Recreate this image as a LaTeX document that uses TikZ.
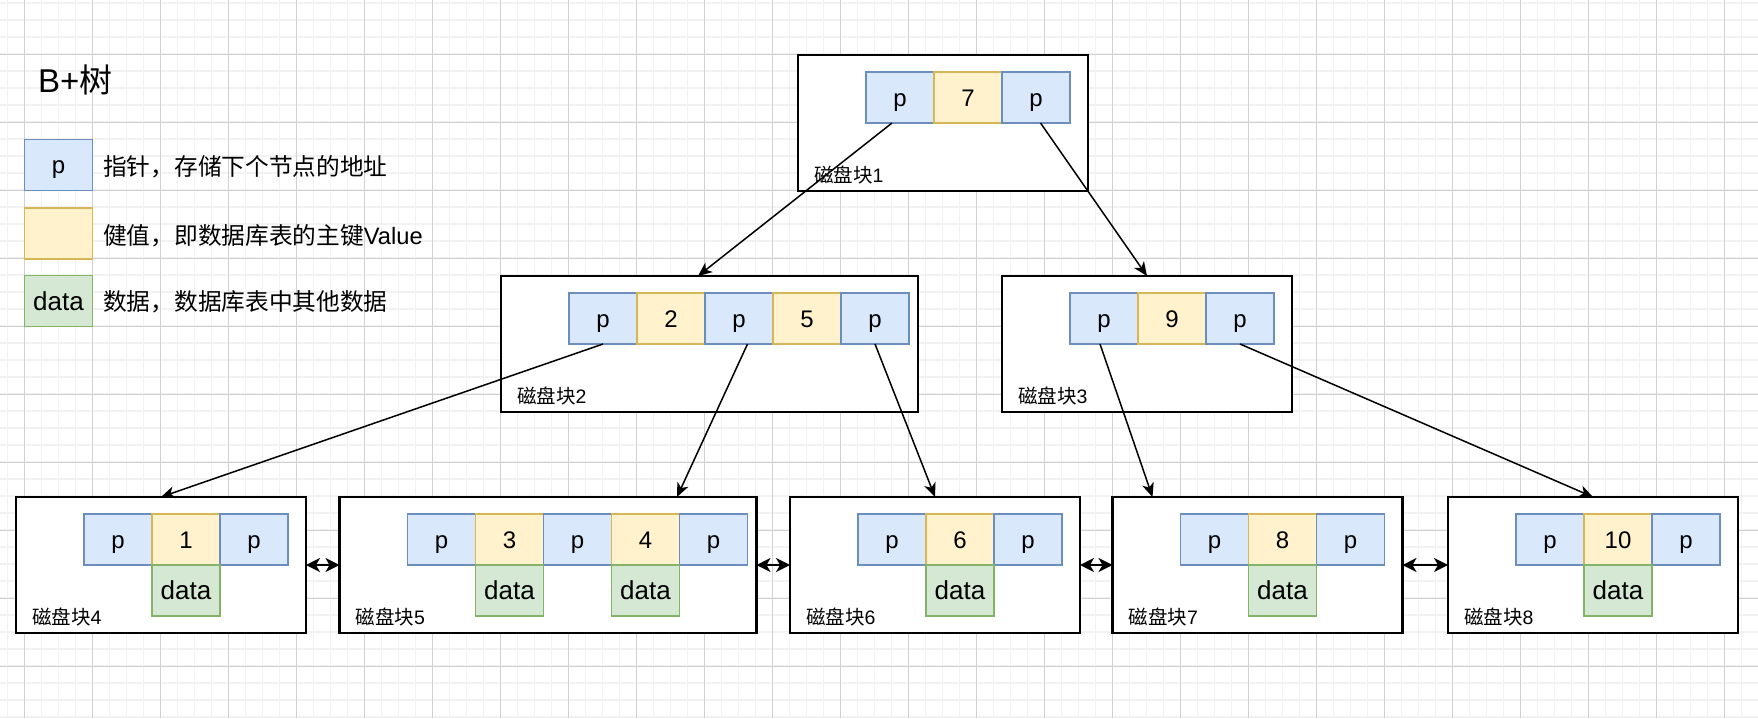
\documentclass[tikz,border=0pt]{standalone}
\usepackage{fontspec}
\setmainfont{Liberation Sans}
\newfontfamily\cjk{Noto Sans CJK SC}
\usetikzlibrary{arrows.meta,calc}
\definecolor{pfill}{HTML}{DAE8FC}
\definecolor{pline}{HTML}{6C8EBF}
\definecolor{kfill}{HTML}{FFF2CC}
\definecolor{kline}{HTML}{D6B656}
\definecolor{dfill}{HTML}{D5E8D4}
\definecolor{dline}{HTML}{82B366}
\definecolor{gminor}{HTML}{F2F2F2}
\definecolor{gmajor}{HTML}{D0D0D0}
\tikzset{
  disk/.style={draw=black, line width=2.2pt, fill=white, minimum width=290pt, minimum height=136pt, inner sep=0pt, outer sep=0pt},
  wdisk/.style={disk, minimum width=417pt},
  cell/.style={line width=1.3pt, minimum width=68pt, minimum height=51pt, inner sep=0pt, outer sep=0pt, font=\fontsize{24}{24}\selectfont, text height=17.2pt, text depth=0pt},
  pc/.style={cell, draw=pline, fill=pfill},
  kc/.style={cell, draw=kline, fill=kfill},
  dc/.style={cell, draw=dline, fill=dfill, font=\fontsize{26}{26}\selectfont, text height=18.7pt},
  lbl/.style={anchor=west, inner sep=0pt, font=\fontsize{19.5}{19.5}\selectfont, text height=17.2pt, text depth=2.3pt},
  legend/.style={anchor=west, inner sep=0pt, font=\fontsize{23.7}{24}\selectfont, text height=20.9pt, text depth=2.8pt},
  tree/.style={line width=1.5pt, -{Stealth[length=14pt,width=12pt,inset=4pt]}},
  link/.style={line width=1.6pt, {Stealth[length=14pt,width=14pt,inset=4pt]}-{Stealth[length=14pt,width=14pt,inset=4pt]}},
  minorgrid/.style={gminor, line width=1.5pt},
  majorgrid/.style={gmajor, line width=1pt}
}
\begin{document}
\begin{tikzpicture}[x=1pt,y=-1pt]
\useasboundingbox (0,0) rectangle (1758,718);
\fill[white] (0,0) rectangle (1758,718);
% grid
\foreach \i in {0,...,103} {\draw[minorgrid] ({7.3+17*\i},0) -- ({7.3+17*\i},718);}
\foreach \j in {0,...,42} {\draw[minorgrid] (0,{3+17*\j}) -- (1758,{3+17*\j});}
\foreach \i in {0,...,25} {\draw[majorgrid] ({24.3+68*\i},0) -- ({24.3+68*\i},718);}
\foreach \j in {0,...,10} {\draw[majorgrid] (0,{54+68*\j}) -- (1758,{54+68*\j});}

% title and legend
\node[anchor=west, inner sep=0pt, font=\fontsize{33}{33}\selectfont, text height=29pt, text depth=4pt] (title) at (38,80) {B+{\cjk 树}};
\node[pc] (lp) at (58.5,165.2) {p};
\node[kc] (lk) at (58.5,233.4) {};
\node[dc] (ld) at (58.5,301) {data};
\node[legend] (tp) at (103,166.7) {{\cjk 指针，存储下个节点的地址}};
\node[legend] (tk) at (103,235) {{\cjk 健值，即数据库表的主键}Value};
\node[legend] (td) at (103,301.7) {{\cjk 数据，数据库表中其他数据}};

% disk blocks
\node[disk] (b1) at (943,123) {};
\node[wdisk] (b2) at (709.5,344) {};
\node[disk] (b3) at (1147,344) {};
\node[disk] (b4) at (161,565) {};
\node[wdisk] (b5) at (548,565) {};
\node[disk] (b6) at (935,565) {};
\node[disk] (b7) at (1257.5,565) {};
\node[disk] (b8) at (1593,565) {};

% block 1
\node[pc] (c1a) at (900,97.5) {p};
\node[kc] (c1b) at (968,97.5) {7};
\node[pc] (c1c) at (1036,97.5) {p};
% block 2
\node[pc] (c2a) at (603,318.5) {p};
\node[kc] (c2b) at (671,318.5) {2};
\node[pc] (c2c) at (739,318.5) {p};
\node[kc] (c2d) at (807,318.5) {5};
\node[pc] (c2e) at (875,318.5) {p};
% block 3
\node[pc] (c3a) at (1104,318.5) {p};
\node[kc] (c3b) at (1172,318.5) {9};
\node[pc] (c3c) at (1240,318.5) {p};
% block 4
\node[pc] (c4a) at (118,539.5) {p};
\node[kc] (c4b) at (186,539.5) {1};
\node[pc] (c4c) at (254,539.5) {p};
\node[dc] (d4) at (186,590.5) {data};
% block 5
\node[pc] (c5a) at (441.5,539.5) {p};
\node[kc] (c5b) at (509.5,539.5) {3};
\node[pc] (c5c) at (577.5,539.5) {p};
\node[kc] (c5d) at (645.5,539.5) {4};
\node[pc] (c5e) at (713.5,539.5) {p};
\node[dc] (d5a) at (509.5,590.5) {data};
\node[dc] (d5b) at (645.5,590.5) {data};
% block 6
\node[pc] (c6a) at (892,539.5) {p};
\node[kc] (c6b) at (960,539.5) {6};
\node[pc] (c6c) at (1028,539.5) {p};
\node[dc] (d6) at (960,590.5) {data};
% block 7
\node[pc] (c7a) at (1214.5,539.5) {p};
\node[kc] (c7b) at (1282.5,539.5) {8};
\node[pc] (c7c) at (1350.5,539.5) {p};
\node[dc] (d7) at (1282.5,590.5) {data};
% block 8
\node[pc] (c8a) at (1550,539.5) {p};
\node[kc] (c8b) at (1618,539.5) {10};
\node[pc] (c8c) at (1686,539.5) {p};
\node[dc] (d8) at (1618,590.5) {data};

% labels
\node[lbl] (l1) at ([xshift=16pt,yshift=16.3pt]b1.south west) {{\cjk 磁盘块}1};
\node[lbl] (l2) at ([xshift=16pt,yshift=16.3pt]b2.south west) {{\cjk 磁盘块}2};
\node[lbl] (l3) at ([xshift=16pt,yshift=16.3pt]b3.south west) {{\cjk 磁盘块}3};
\node[lbl] (l4) at ([xshift=16pt,yshift=16.3pt]b4.south west) {{\cjk 磁盘块}4};
\node[lbl] (l5) at ([xshift=16pt,yshift=16.3pt]b5.south west) {{\cjk 磁盘块}5};
\node[lbl] (l6) at ([xshift=16pt,yshift=16.3pt]b6.south west) {{\cjk 磁盘块}6};
\node[lbl] (l7) at ([xshift=16pt,yshift=16.3pt]b7.south west) {{\cjk 磁盘块}7};
\node[lbl] (l8) at ([xshift=16pt,yshift=16.3pt]b8.south west) {{\cjk 磁盘块}8};

% tree connectors
\draw[tree] ([xshift=-8pt]c1a.south) -- ([xshift=-11.5pt]b2.north);
\draw[tree] ([xshift=4.5pt]c1c.south) -- (b3.north);
\draw[tree] (c2a.south) -- (b4.north);
\draw[tree] ([xshift=8.5pt]c2c.south) -- ([xshift=129pt]b5.north);
\draw[tree] (c2e.south) -- (b6.north);
\draw[tree] ([xshift=-4pt]c3a.south) -- ([xshift=-105pt]b7.north);
\draw[tree] (c3c.south) -- (b8.north);

% leaf links
\draw[link] (b4.east) -- (b5.west);
\draw[link] (b5.east) -- (b6.west);
\draw[link] (b6.east) -- (b7.west);
\draw[link] (b7.east) -- (b8.west);
\end{tikzpicture}
\end{document}
